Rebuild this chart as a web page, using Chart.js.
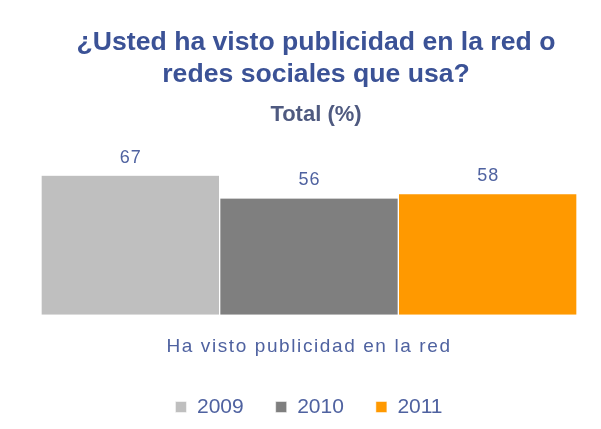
<!DOCTYPE html>
<html>
<head>
<meta charset="utf-8">
<script src="https://cdn.jsdelivr.net/npm/chart.js@4/dist/chart.umd.min.js"></script>
<style>
  html, body { margin: 0; padding: 0; background: #ffffff; }
  #wrap { width: 601px; height: 429px; }
</style>
</head>
<body>
<div id="wrap"><canvas id="c" width="601" height="429"></canvas></div>
<script>
// Survey question and the single answer category
const titleLines = ['¿Usted ha visto publicidad en la red o', 'redes sociales que usa?'];
const subtitleText = 'Total (%)';
const categories = ['Ha visto publicidad en la red'];

// One series per survey year (percent of respondents)
const years = ['2009', '2010', '2011'];
const values2009 = [67];
const values2010 = [56];
const values2011 = [58];

const yearColors = ['#bfbfbf', '#7f7f7f', '#ff9900'];
const FONT = '"Liberation Sans", Arial, Helvetica, sans-serif';
const LABEL_COLOR = '#4f62a0';

// Value labels above each bar, then wider letter spacing for the axis labels
const valueLabels = {
  id: 'valueLabels',
  beforeDraw(chart) {
    chart.ctx.letterSpacing = '0px';
  },
  afterDatasetsDraw(chart) {
    const ctx = chart.ctx;
    ctx.save();
    ctx.letterSpacing = '1px';
    ctx.font = '18px ' + FONT;
    ctx.fillStyle = LABEL_COLOR;
    ctx.textAlign = 'center';
    ctx.textBaseline = 'alphabetic';
    chart.data.datasets.forEach((ds, i) => {
      const meta = chart.getDatasetMeta(i);
      meta.data.forEach((bar, j) => {
        ctx.fillText(String(ds.data[j]), bar.x + 0.5, bar.y - 13);
      });
    });
    ctx.restore();
    ctx.letterSpacing = '1.6px';
  },
  afterDraw(chart) {
    chart.ctx.letterSpacing = '0px';
  }
};

const seriesValues = [values2009, values2010, values2011];

new Chart(document.getElementById('c'), {
  type: 'bar',
  data: {
    labels: categories,
    datasets: years.map((y, i) => ({
      label: y,
      data: seriesValues[i],
      backgroundColor: yearColors[i],
      borderColor: '#ffffff',
      borderWidth: { left: 1, right: 1, top: 0, bottom: 0 },
      borderSkipped: false,
      categoryPercentage: 1,
      barPercentage: 1
    }))
  },
  options: {
    responsive: false,
    animation: false,
    events: [],
    layout: { padding: { left: 31, right: 0, top: 0, bottom: 1.5 } },
    scales: {
      x: {
        grid: { display: false, drawTicks: false },
        border: { display: false },
        ticks: {
          z: 1,
          padding: 21,
          color: LABEL_COLOR,
          font: { family: FONT, size: 19 }
        },
        afterFit(scale) { scale.height -= 15; }
      },
      y: {
        position: 'left',
        min: 0,
        max: 90.1,
        grid: { display: false, drawTicks: false },
        border: { display: false },
        ticks: { display: false },
        afterFit(scale) { scale.width = 10; }
      },
      yRight: {
        position: 'right',
        grid: { display: false, drawTicks: false },
        border: { display: false },
        ticks: { display: false },
        afterFit(scale) { scale.width = 24; }
      }
    },
    plugins: {
      title: {
        display: true,
        text: titleLines,
        color: '#3b5296',
        font: { family: FONT, size: 26.6, weight: 'bold', lineHeight: 1.2 },
        padding: { top: 26.6, bottom: 0 }
      },
      subtitle: {
        display: true,
        text: subtitleText,
        color: '#4f5a80',
        font: { family: FONT, size: 22, weight: 'bold', lineHeight: 1.2 },
        padding: { top: 10.9, bottom: 0 }
      },
      legend: {
        display: true,
        position: 'bottom',
        fullSize: false,
        labels: {
          boxWidth: 11,
          boxHeight: 11,
          padding: 32,
          color: LABEL_COLOR,
          font: { family: FONT, size: 21 }
        }
      },
      tooltip: { enabled: false }
    }
  },
  plugins: [valueLabels]
});
</script>
</body>
</html>
